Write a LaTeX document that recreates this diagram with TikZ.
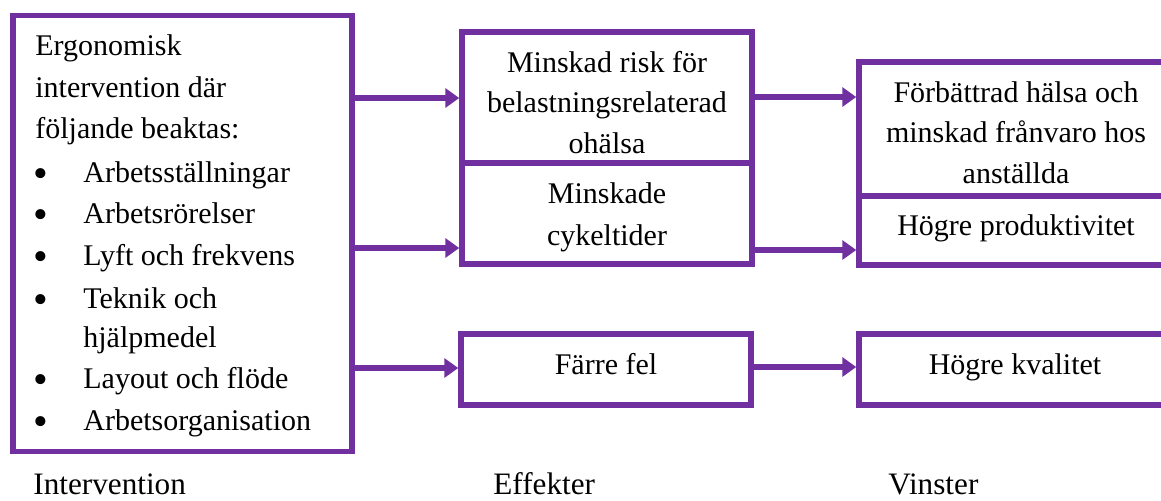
\documentclass[tikz,border=0pt]{standalone}
\usepackage{fontspec}
\setmainfont{Liberation Serif}
\usetikzlibrary{arrows.meta}
\definecolor{purp}{RGB}{112,48,160}
\begin{document}
\begin{tikzpicture}[x=0.5pt,y=-0.5pt,
  box/.style={draw=purp, line width=2.75pt, rectangle, inner sep=0pt},
  arr/.style={draw=purp, line width=2.75pt, -{Triangle[length=7pt,width=9.5pt]}},
  txt/.style={anchor=base, inner sep=0pt, font=\fontsize{15pt}{20pt}\selectfont},
  txtl/.style={txt, anchor=base west},
  bul/.style={anchor=base, inner sep=0pt, font=\fontsize{21pt}{24pt}\selectfont},
  lbl/.style={anchor=base west, inner sep=0pt, font=\fontsize{15.6pt}{20pt}\selectfont}]
\useasboundingbox (0,0) rectangle (1161,500);
\clip (0,0) rectangle (1161,500);

% boxes
\node[box, minimum width=169.5pt, minimum height=218pt] (L) at (182.5,233.5) {};
\node[box, minimum width=145pt, minimum height=65.5pt] (M1) at (607,97.5) {};
\node[box, minimum width=145pt, minimum height=50.5pt] (M2) at (607,213.5) {};
\node[box, minimum width=145pt, minimum height=35.5pt] (M3) at (606,369.5) {};
\node[box, minimum width=154.5pt, minimum height=67pt] (R1) at (1013.5,129) {};
\node[box, minimum width=154.5pt, minimum height=34.5pt] (R2) at (1013.5,230.5) {};
\node[box, minimum width=154.5pt, minimum height=35.5pt] (R3) at (1013.5,369.5) {};

% arrow heights
\coordinate (y1) at (0,98);
\coordinate (y2) at (0,248);
\coordinate (y3) at (0,368);
\coordinate (z1) at (0,97);
\coordinate (z2) at (0,250);
\coordinate (z3) at (0,367);

\draw[arr] (L.east |- y1) -- (M1.west |- y1);
\draw[arr] (L.east |- y2) -- (M2.west |- y2);
\draw[arr] (L.east |- y3) -- (M3.west |- y3);
\draw[arr] (M1.east |- z1) -- (R1.west |- z1);
\draw[arr] (M2.east |- z2) -- (R2.west |- z2);
\draw[arr] (M3.east |- z3) -- (R3.west |- z3);

% left box text
\node[txtl] (l1) at (35,55) {Ergonomisk};
\node[txtl] (l2) at (35,97) {intervention där};
\node[txtl] (l3) at (35,138) {följande beaktas:};
\foreach \yy/\tt [count=\i] in {182/Arbetsställningar, 223/Arbetsrörelser, 265/Lyft och frekvens, 308/Teknik och, 388/Layout och flöde, 430/Arbetsorganisation}{
  \node[bul] (b\i) at (41,\yy+5) {\textbullet};
  \node[txtl] (i\i) at (83,\yy) {\tt};
}
\node[txtl] (i4b) at (83,347) {hjälpmedel};

% middle texts
\node[txt] (m1a) at (607,72) {Minskad risk för};
\node[txt] (m1b) at (607,112) {belastningsrelaterad};
\node[txt] (m1c) at (607,153) {ohälsa};
\node[txt] (m2a) at (607,203) {Minskade};
\node[txt] (m2b) at (607,245) {cykeltider};
\node[txt] (m3a) at (606,374) {Färre fel};

% right texts
\node[txt] (r1a) at (1016,102) {Förbättrad hälsa och};
\node[txt] (r1b) at (1016,142) {minskad frånvaro hos};
\node[txt] (r1c) at (1016,183) {anställda};
\node[txt] (r2a) at (1016,235) {Högre produktivitet};
\node[txt] (r3a) at (1015,374) {Högre kvalitet};

% column labels
\node[lbl] (c1) at (33,494) {Intervention};
\node[lbl] (c2) at (493,494) {Effekter};
\node[lbl] (c3) at (888,494) {Vinster};
\end{tikzpicture}
\end{document}
